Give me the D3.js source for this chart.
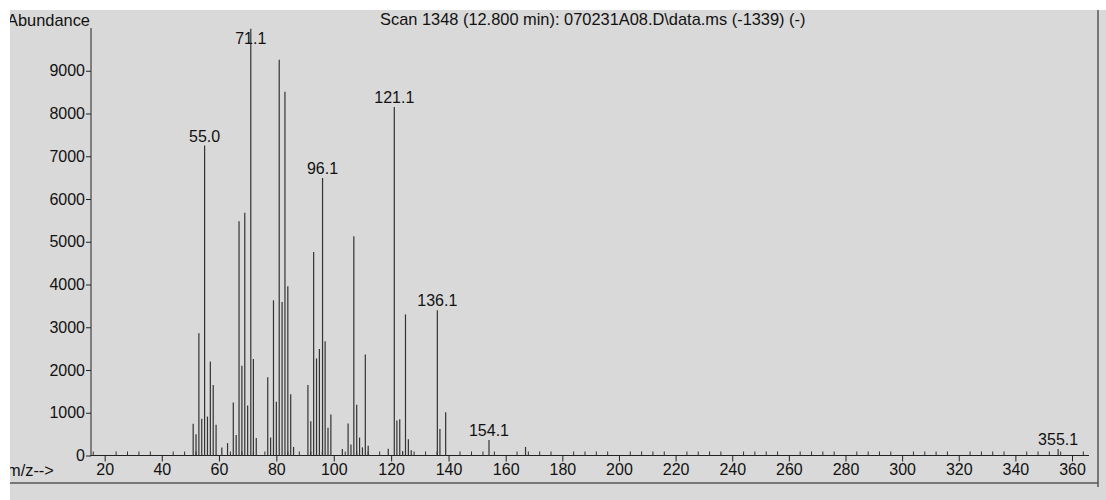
<!DOCTYPE html>
<html>
<head>
<meta charset="utf-8">
<script src="https://cdn.jsdelivr.net/npm/d3@7/dist/d3.min.js"></script>
<style>
  html, body { margin: 0; padding: 0; background: #ffffff; }
  svg { display: block; }
  text { font-family: "Liberation Sans", Arial, sans-serif; fill: #111; }
</style>
</head>
<body>
<svg id="chart" width="1106" height="500"></svg>
<script>
// Mass spectrum, scan 1348: m/z of each ion and its abundance
const mzValues = [51, 52, 53, 54, 55.0, 56, 57, 58, 59, 61, 63, 65, 66, 67, 68, 69, 70, 71.1, 72, 73,
  77, 78, 79, 80, 81, 82, 83, 84, 85, 86, 91, 92, 93, 94, 95, 96.1, 97, 98, 99,
  103, 105, 106, 107, 108, 109, 110, 111, 112, 119, 121.1, 122, 123, 124, 125, 126, 127,
  136.1, 137, 139, 154.1, 167, 355.1];
const abundances = [740, 500, 2860, 860, 7250, 910, 2200, 1650, 720, 190, 290, 1240, 480, 5480, 2100, 5680, 1170, 9980, 2260, 410,
  1830, 420, 3630, 1260, 9260, 3590, 8510, 3960, 1430, 200, 1650, 800, 4760, 2270, 2490, 6490, 2670, 650, 960,
  150, 750, 260, 5130, 1190, 420, 190, 2360, 230, 160, 8150, 820, 850, 100, 3300, 380, 120,
  3400, 620, 1010, 360, 200, 150];
// Ions annotated with their m/z
const labelledIons = ["55.0", "71.1", "96.1", "121.1", "136.1", "154.1", "355.1"];

const xTickValues = d3.range(20, 361, 20);
const xMinorTicks = d3.range(16, 366, 4);
const yTickValues = d3.range(0, 9001, 1000);

const titleText = "Scan 1348 (12.800 min): 070231A08.D\\data.ms (-1339) (-)";
const yLabelText = "Abundance";
const xLabelText = "m/z-->";

const svg = d3.select("#chart");

// Page panel
svg.append("defs").append("clipPath").attr("id", "panel")
  .append("rect").attr("x", 10).attr("y", 10).attr("width", 1096).attr("height", 490);

const root = svg.append("g").attr("clip-path", "url(#panel)");
root.append("rect").attr("x", 10).attr("y", 10).attr("width", 1096).attr("height", 490)
  .attr("fill", "#d9d9d9");

// The printed m/z axis is slightly stretched in the middle of the page
const x = d3.scaleLinear().domain([15, 55, 154.1, 366]).range([90.4, 204.6, 489, 1089]);
const y = d3.scaleLinear().domain([0, 10000]).range([455.5, 28]);

// Header texts
root.append("text").attr("x", 7).attr("y", 25.5).attr("font-size", 16.4).text(yLabelText);
root.append("text").attr("x", 380).attr("y", 25).attr("font-size", 16.4).text(titleText);

// Y axis
const yAxis = d3.axisLeft(y).tickValues(yTickValues).tickSize(5).tickPadding(1)
  .tickFormat(d3.format("d"));
const gy = root.append("g").attr("transform", "translate(91,0)").call(yAxis);
gy.select(".domain").attr("stroke", "#222").attr("d", `M0,${y(0)}V${y(10000)}`);
gy.selectAll(".tick line").attr("stroke", "#222");
gy.selectAll(".tick text").attr("font-size", 16).attr("font-family", "Liberation Sans, Arial, sans-serif")
  .attr("fill", "#111");

// X axis
const xAxis = d3.axisBottom(x).tickValues(xTickValues).tickSize(6).tickPadding(2)
  .tickFormat(d3.format("d"));
const gx = root.append("g").attr("transform", `translate(0,${y(0)})`).call(xAxis);
gx.select(".domain").attr("stroke", "#222").attr("d", `M${x(15)},0H${x(366)}`);
gx.selectAll(".tick line").attr("stroke", "#222");
gx.selectAll(".tick text").attr("font-size", 16).attr("font-family", "Liberation Sans, Arial, sans-serif")
  .attr("fill", "#111");

gx.selectAll(".minor").data(xMinorTicks.filter(v => v % 20 !== 0)).enter().append("line")
  .attr("class", "minor")
  .attr("x1", d => x(d)).attr("x2", d => x(d))
  .attr("y1", 0).attr("y2", -4)
  .attr("stroke", "#333");

root.append("text").attr("x", 7).attr("y", 475.5).attr("font-size", 16.4).text(xLabelText);

// Spectrum sticks
const peaks = mzValues.map((m, i) => ({ mz: m, v: abundances[i] }));
root.append("g").selectAll("line").data(peaks).enter().append("line")
  .attr("x1", d => x(d.mz)).attr("x2", d => x(d.mz))
  .attr("y1", y(0)).attr("y2", d => y(d.v))
  .attr("stroke", "#333")
  .attr("stroke-width", 1.2);

// m/z annotations
const labelled = peaks.filter(d => labelledIons.includes(d.mz.toFixed(1)));
root.append("g").selectAll("text").data(labelled).enter().append("text")
  .attr("x", d => x(d.mz))
  .attr("y", d => Math.max(y(d.v) - 4, 44))
  .attr("text-anchor", "middle")
  .attr("font-size", 16)
  .text(d => d.mz.toFixed(1));

// Frame lines
root.append("line").attr("x1", 10).attr("x2", 1098).attr("y1", 483).attr("y2", 483)
  .attr("stroke", "#777").attr("stroke-width", 2);
root.append("line").attr("x1", 1098).attr("x2", 1098).attr("y1", 10).attr("y2", 487)
  .attr("stroke", "#555").attr("stroke-width", 1.5);
</script>
</body>
</html>
